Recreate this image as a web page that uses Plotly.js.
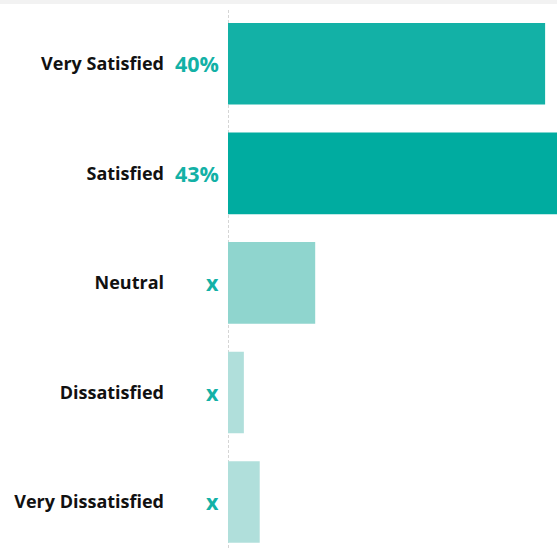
<!DOCTYPE html>
<html><head><meta charset="utf-8">
<script src="https://cdn.plot.ly/plotly-3.0.1.min.js"></script>
<style>html,body{margin:0;padding:0;background:#fff}</style>
</head><body>
<div id="chart" style="width:557px;height:548px"></div>
<script>
const categories = ["Very Satisfied", "Satisfied", "Neutral", "Dissatisfied", "Very Dissatisfied"];
const values = [40, 43, 11, 2, 4];
const valueLabels = ["40%", "43%", "x", "x", "x"];
const barColors = ["#13B1A6", "#00ACA0", "#8FD5CE", "#B0DFDB", "#B0DFDB"];

const bars = {
  type: "bar", orientation: "h",
  y: categories, x: values,
  marker: {color: barColors, line: {width: 0}},
  hoverinfo: "none", showlegend: false
};

const annotations = categories.map((c, i) => ({
  x: 0, y: c, xref: "x", yref: "y",
  text: "<b>" + valueLabels[i] + "</b>",
  showarrow: false, xanchor: "right", yanchor: "middle", xshift: -7,
  font: {family: "'Open Sans', sans-serif", size: 21.5, color: "#13B1A6"}
}));

const layout = {
  width: 557, height: 548,
  margin: {l: 228, r: 0, t: 9, b: 0},
  paper_bgcolor: "#ffffff", plot_bgcolor: "#ffffff",
  bargap: 0.255,
  xaxis: {range: [0, 41.5], showgrid: false, zeroline: false, showline: false,
          showticklabels: false, ticks: "", fixedrange: true},
  yaxis: {type: "category", categoryorder: "array", categoryarray: categories,
          range: [4.42, -0.5], showgrid: false, zeroline: false, showline: false,
          ticks: "", ticklabelstandoff: 63,
          tickfont: {family: "'Open Sans', sans-serif", size: 18, color: "#111111", weight: "bold"}},
  annotations: annotations,
  shapes: [
    {type: "line", xref: "x", yref: "paper", x0: 0, x1: 0, y0: 0, y1: 1,
     layer: "below", line: {color: "#C8C8C8", width: 1.5, dash: "3px,2px"}},
    {type: "rect", xref: "paper", yref: "paper", x0: -1, x1: 1.01,
     y0: 1 + 5/539, y1: 1 + 9/539, fillcolor: "#F2F2F2", line: {width: 0}, layer: "below"}
  ]
};

Plotly.newPlot("chart", [bars], layout, {displayModeBar: false, staticPlot: true});
</script>
</body></html>
